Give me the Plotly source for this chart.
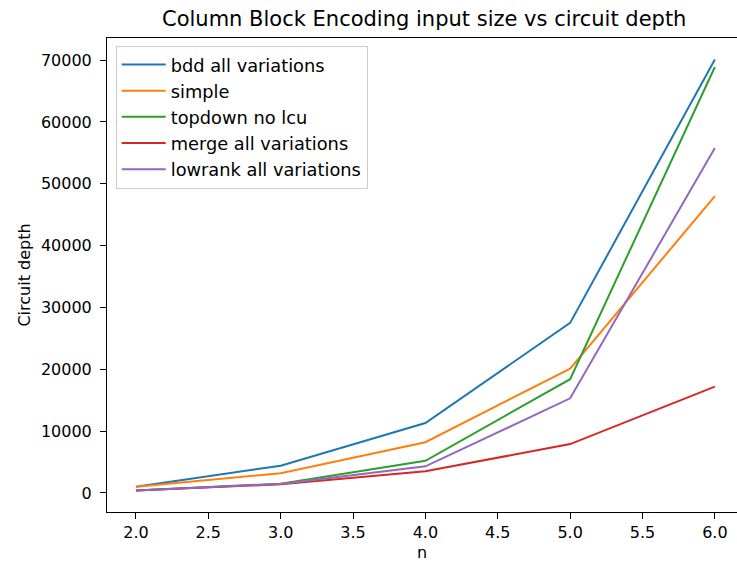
import plotly.graph_objects as go

n = [2, 3, 4, 5, 6]
bdd_all = [1000, 4400, 11300, 27500, 70100]
simple = [1000, 3200, 8200, 20100, 48000]
topdown_no_lcu = [400, 1500, 5200, 18400, 68900]
merge_all = [400, 1400, 3500, 7900, 17200]
lowrank_all = [400, 1450, 4300, 15300, 55800]

names = ["bdd all variations", "simple", "topdown no lcu", "merge all variations", "lowrank all variations"]
series = [bdd_all, simple, topdown_no_lcu, merge_all, lowrank_all]
colors = ["#1f77b4", "#ff7f0e", "#2ca02c", "#d62728", "#9467bd"]

fig = go.Figure()
for name, ys, c in zip(names, series, colors):
    fig.add_trace(go.Scatter(x=n, y=ys, mode="lines", name=name,
                             line=dict(color=c, width=2)))

font = dict(family="DejaVu Sans", size=16, color="black")
fig.update_layout(
    width=737, height=562,
    margin=dict(l=107, r=0, t=38, b=50),
    plot_bgcolor="white", paper_bgcolor="white",
    font=font,
    showlegend=True,
    legend=dict(x=(115.7 - 107) / 630, y=1 - (45.5 - 38) / 474, xanchor="left", yanchor="top",
                bgcolor="rgba(255,255,255,0.8)", bordercolor="#cccccc", borderwidth=1,
                font=dict(family="DejaVu Sans", size=17.8, color="black"),
                itemwidth=44),
    annotations=[dict(text="Column Block Encoding input size vs circuit depth",
                      xref="paper", yref="paper", x=(424 - 107) / 630, y=(512 - 19) / 474,
                      xanchor="center", yanchor="middle", showarrow=False,
                      font=dict(family="DejaVu Sans", size=21, color="black"))],
)
fig.update_xaxes(range=[1.8, 6.153], tickmode="linear", tick0=2, dtick=0.5, tickformat=".1f",
                 showgrid=False, zeroline=False, showline=True, linecolor="black", linewidth=1,
                 mirror=True, ticks="outside", ticklen=6, tickcolor="black",
                 tickfont=font, title=dict(text="n", standoff=6, font=font))
fig.update_yaxes(range=[-3085, 73585], tickmode="linear", tick0=0, dtick=10000, tickformat="d",
                 ticklabelstandoff=5,
                 showgrid=False, zeroline=False, showline=True, linecolor="black", linewidth=1,
                 ticks="outside", ticklen=6, tickcolor="black",
                 tickfont=font, title=dict(text="Circuit depth", standoff=6, font=font))
fig.write_html("out.html")
